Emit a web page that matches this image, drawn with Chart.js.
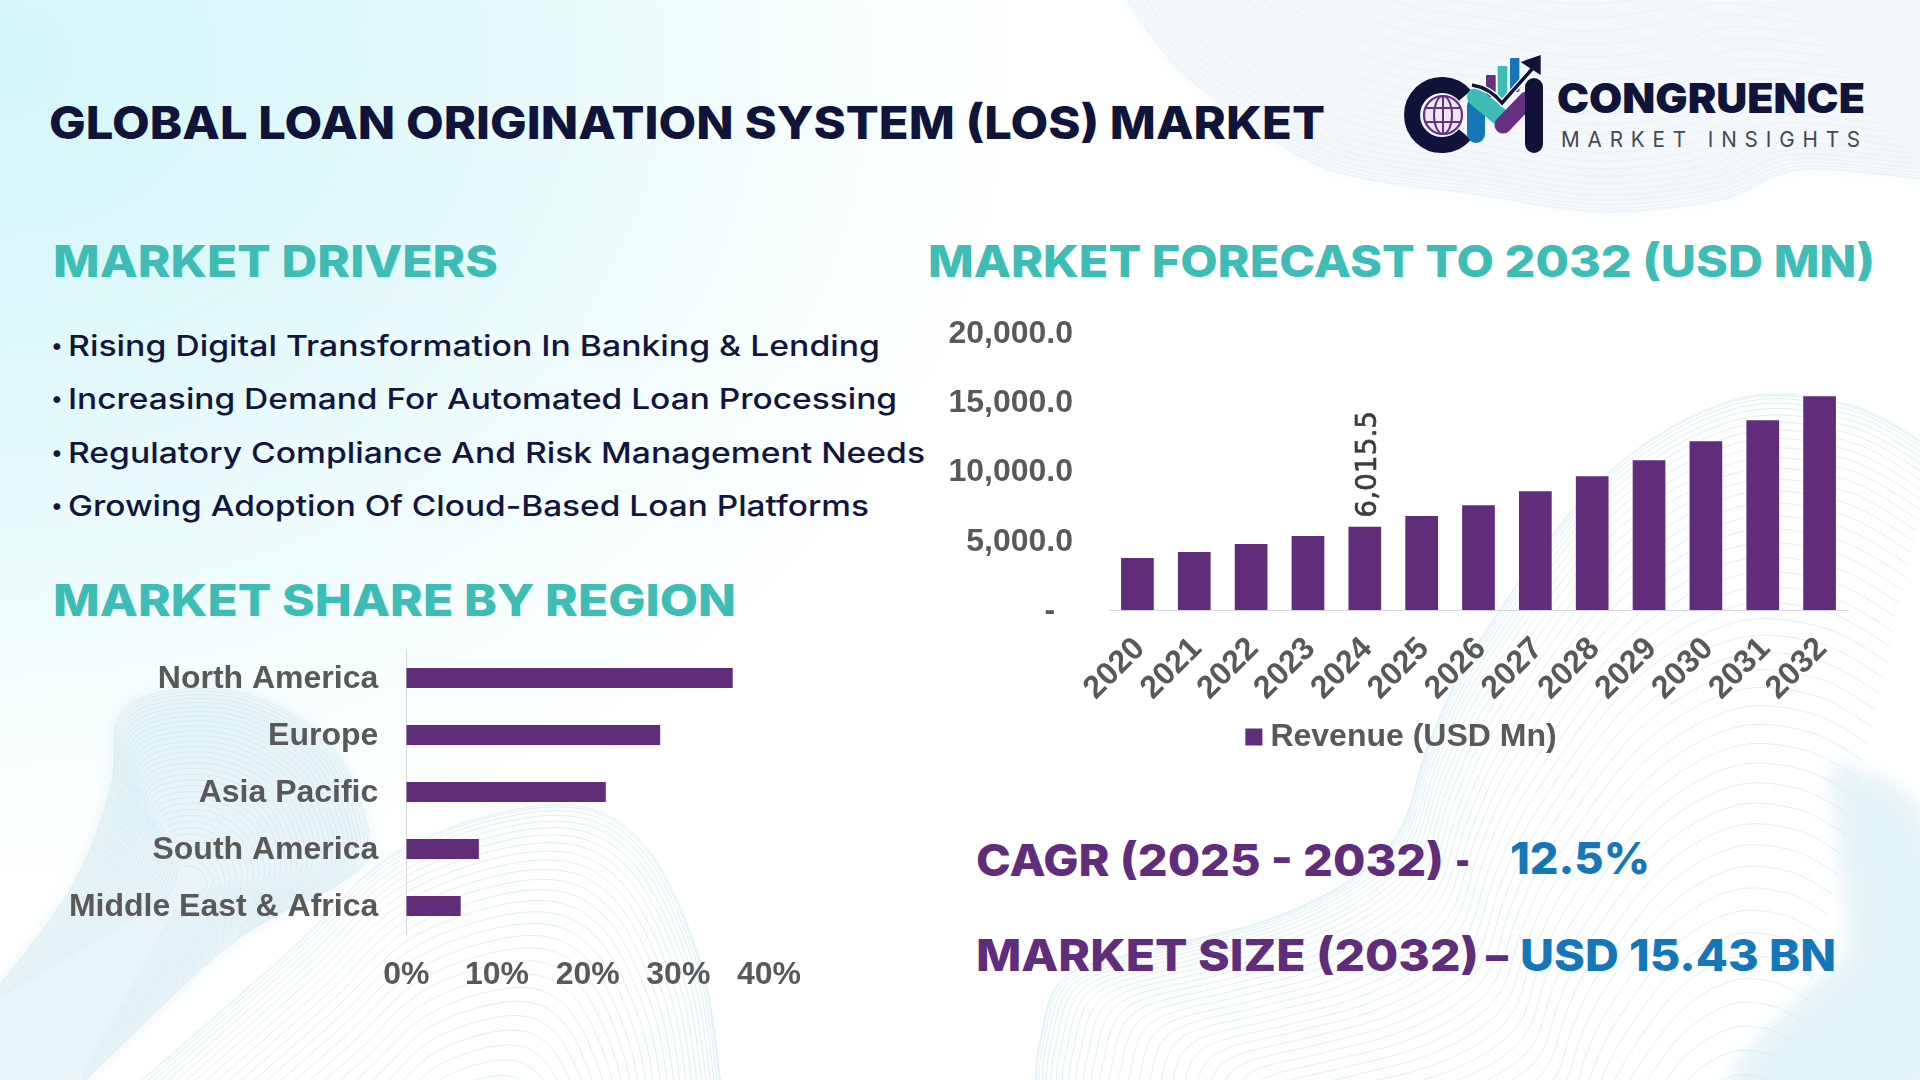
<!DOCTYPE html>
<html>
<head>
<meta charset="utf-8">
<title>Global Loan Origination System (LOS) Market</title>
<script src="https://cdn.jsdelivr.net/npm/chart.js@4"></script>
<style>
html,body{margin:0;padding:0;width:1920px;height:1080px;overflow:hidden;background:#fff}
#page{position:relative;width:1920px;height:1080px;overflow:hidden;
 background:radial-gradient(ellipse 1050px 850px at 0px 60px,#d4f6f9 0%,#e2f9fb 40%,#f4fdfd 72%,#ffffff 100%)}
#bg,#logo{position:absolute;left:0;top:0}
.t{position:absolute;white-space:nowrap;line-height:1;font-family:Inter,sans-serif;transform-origin:left center}
.cv{position:absolute}
canvas{display:block}
</style>
</head>
<body>
<div id="page">
<svg id="bg" width="1920" height="1080" viewBox="0 0 1920 1080" xmlns="http://www.w3.org/2000/svg">
<defs><filter id="blur"><feGaussianBlur stdDeviation="10"/></filter><filter id="soft"><feGaussianBlur stdDeviation="8"/></filter></defs>
<g id="bgLines"></g>
</svg>

<svg id="logo" width="1920" height="1080" viewBox="0 0 1920 1080" xmlns="http://www.w3.org/2000/svg">
 <rect x="1486" y="75" width="9.7" height="22" rx="1" fill="#64307f"/>
 <rect x="1497.7" y="66" width="9.6" height="34" rx="1" fill="#3dbdb5"/>
 <rect x="1510" y="58" width="9.4" height="34" rx="1" fill="#1677b8"/>
 <path d="M1465 95.7A30 30 0 1 0 1465 134.3" fill="none" stroke="#10123a" stroke-width="16"/>
 <circle cx="1443" cy="115" r="19" fill="#efe6f4" stroke="#64307f" stroke-width="2.2"/>
 <ellipse cx="1443" cy="115" rx="9" ry="19" fill="none" stroke="#64307f" stroke-width="2"/>
 <path d="M1443 96V134M1425 108H1461M1425 122H1461" stroke="#64307f" stroke-width="2" fill="none"/>
 <path d="M1476 106V134" stroke="#1677b8" stroke-width="18" stroke-linecap="round" fill="none"/>
 <path d="M1476 97L1499 116" stroke="#3dbdb5" stroke-width="18" stroke-linecap="round" fill="none"/>
 <path d="M1503 125L1527 100" stroke="#64307f" stroke-width="17" stroke-linecap="round" fill="none"/>
 <path d="M1534 87V144" stroke="#10123a" stroke-width="18" stroke-linecap="round" fill="none"/>
 <path d="M1472 85Q1490 88 1502 103L1533 68" stroke="#ffffff" stroke-width="6" fill="none"/>
 <path d="M1472 85Q1490 88 1502 103L1533 68" stroke="#10123a" stroke-width="3.4" fill="none"/>
 <path d="M1540.7 55L1520.7 62L1540.7 75Z" fill="#10123a"/>
</svg>

<div class="t" data-x="49" data-r="1325" data-y="123" style="font-size:45.5px;font-weight:800;color:#10133a">GLOBAL LOAN ORIGINATION SYSTEM (LOS) MARKET</div>
<div class="t" data-x="53" data-r="498" data-y="261" style="font-size:44px;font-weight:800;color:#3dbdb5">MARKET DRIVERS</div>
<div class="t" data-x="928" data-r="1875" data-y="261" style="font-size:44px;font-weight:800;color:#3dbdb5">MARKET FORECAST TO 2032 (USD MN)</div>
<div class="t" data-x="51" data-y="345" style="font-size:22px;font-weight:500;color:#12163c">•</div>
<div class="t" data-x="51" data-y="398" style="font-size:22px;font-weight:500;color:#12163c">•</div>
<div class="t" data-x="51" data-y="452" style="font-size:22px;font-weight:500;color:#12163c">•</div>
<div class="t" data-x="51" data-y="505" style="font-size:22px;font-weight:500;color:#12163c">•</div>
<div class="t" data-x="68" data-r="880" data-y="345" style="font-size:29px;font-weight:500;color:#12163c">Rising Digital Transformation In Banking &amp; Lending</div>
<div class="t" data-x="68" data-r="897" data-y="398" style="font-size:29px;font-weight:500;color:#12163c">Increasing Demand For Automated Loan Processing</div>
<div class="t" data-x="68" data-r="925" data-y="452" style="font-size:29px;font-weight:500;color:#12163c">Regulatory Compliance And Risk Management Needs</div>
<div class="t" data-x="68" data-r="869" data-y="505" style="font-size:29px;font-weight:500;color:#12163c">Growing Adoption Of Cloud-Based Loan Platforms</div>
<div class="t" data-x="53" data-r="736" data-y="600" style="font-size:44px;font-weight:800;color:#3dbdb5">MARKET SHARE BY REGION</div>
<div class="t" data-x="976" data-r="1444" data-y="860" style="font-size:44px;font-weight:800;color:#5f2d7c">CAGR (2025 - 2032)</div>
<div class="t" data-x="1455" data-r="1470" data-y="860" style="font-size:44px;font-weight:800;color:#5f2d7c">-</div>
<div class="t" data-x="1510" data-r="1650" data-y="858" style="font-size:44px;font-weight:800;color:#1677b8">12.5%</div>
<div class="t" data-x="976" data-r="1479" data-y="955" style="font-size:44px;font-weight:800;color:#5f2d7c">MARKET SIZE (2032)</div>
<div class="t" data-x="1486" data-r="1508" data-y="955" style="font-size:44px;font-weight:800;color:#5f2d7c">–</div>
<div class="t" data-x="1520" data-r="1836" data-y="955" style="font-size:44px;font-weight:800;color:#1677b8">USD 15.43 BN</div>
<div class="t" data-x="1557" data-r="1865" data-y="98" style="font-size:41px;font-weight:900;color:#10133a">CONGRUENCE</div>
<div class="t" data-x="1561" data-r="1868" data-y="139" style="font-size:22px;font-weight:400;letter-spacing:.38em;color:#444850">MARKET INSIGHTS</div>

<div class="cv" style="left:900px;top:300px;width:1010px;height:463px"><canvas id="rev" width="1010" height="463"></canvas></div>
<div class="cv" style="left:40px;top:630px;width:780px;height:370px"><canvas id="reg" width="780" height="370"></canvas></div>
</div>

<script>
// ---- chart data ----
const years = ["2020","2021","2022","2023","2024","2025","2026","2027","2028","2029","2030","2031","2032"];
const revenue = [3750,4180,4760,5340,6015.5,6780,7570,8580,9660,10815,12185,13700,15430];
const seriesName = "Revenue (USD Mn)";
const labelledYear = "2024";
const labelledText = "6,015.5";
const regions = ["North America","Europe","Asia Pacific","South America","Middle East & Africa"];
const regionShare = [36,28,22,8,6];

// ---- style ----
const PURPLE = "#612d7b", GREY = "#595959", AXIS = "#d6d6dc";
const LAB = "'Liberation Sans', Arial, sans-serif";
Chart.defaults.animation = false;
Chart.defaults.font.family = LAB;
Chart.defaults.color = GREY;

// ---- place text and fit it to its measured extent ----
document.querySelectorAll('.t').forEach(el => {
  el.style.left = el.dataset.x + 'px';
  el.style.top = el.dataset.y + 'px';
  if (!el.dataset.r) { el.style.transform = 'translateY(-50%)'; return; }
  const w = el.getBoundingClientRect().width;
  const target = el.dataset.r - el.dataset.x;
  el.style.transform = 'translateY(-50%) scaleX(' + (target / w).toFixed(4) + ')';
});

// ---- decorative background: contour families ----
const NS = "http://www.w3.org/2000/svg";
const host = document.getElementById('bgLines');
function smooth(p){
  let d = 'M' + p[0][0] + ' ' + p[0][1];
  for (let i = 0; i < p.length - 1; i++){
    const a = p[Math.max(i-1,0)], b = p[i], c = p[i+1], e = p[Math.min(i+2,p.length-1)];
    d += 'C' + (b[0]+(c[0]-a[0])/6) + ' ' + (b[1]+(c[1]-a[1])/6) + ' ' + (c[0]-(e[0]-b[0])/6) + ' ' + (c[1]-(e[1]-b[1])/6) + ' ' + c[0] + ' ' + c[1];
  }
  return d;
}
function add(attrs){
  const e = document.createElementNS(NS,'path');
  for (const k in attrs) e.setAttribute(k, attrs[k]);
  host.appendChild(e);
}
function family(p, cx, cy, n, sMin, color, op, width, pow){
  const d = smooth(p);
  for (let i = 0; i < n; i++){
    const s = 1 - (1 - sMin) * Math.pow(i/(n-1), pow);
    add({d, fill:'none', stroke:color, 'stroke-opacity':op, 'stroke-width':width,
      'vector-effect':'non-scaling-stroke',
      transform:`translate(${cx} ${cy}) scale(${s}) translate(${-cx} ${-cy})`});
  }
}
// top right veil
const topEdge = [[1120,-10],[1170,60],[1230,110],[1330,170],[1480,195],[1600,212],[1720,200],[1800,170],[1930,180]];
add({d:smooth(topEdge)+'L1930 -10Z', fill:'#edf3f9', 'fill-opacity':.6, filter:'url(#soft)'});
family(topEdge,1540,-320,34,.35,'#e4edf6',.6,1,1.6);
// bottom centre arcs
const arcs = [[130,1090],[290,950],[400,850],[550,805],[640,840],[700,960],[722,1090]];
family(arcs,470,1230,30,.25,'#d3ebf0',.75,1,1.5);
// bottom right arcs
const brVeil = [[1830,760],[1930,830],[1930,1090],[1730,1090],[1850,950]];
add({d:smooth(brVeil)+'Z', fill:'#bfe3ee', 'fill-opacity':.42, filter:'url(#blur)'});
const brEdge = [[1035,1090],[1040,1040],[1067,975],[1170,945],[1267,920],[1350,880],[1400,830],[1430,740],[1480,640],[1600,480],[1733,400],[1850,405],[1935,450]];
family(brEdge,1730,1340,48,.2,'#d2e9f1',.7,1,1.6);
// bottom left ribbon
const ribbon = [[-20,1010],[70,890],[110,790],[120,715],[175,690],[255,697],[333,747],[370,840],[345,880],[230,945],[70,1095]];
add({d:smooth(ribbon)+'L-20 1095Z', fill:'#d4ecf2', 'fill-opacity':.5, filter:'url(#soft)'});
family(ribbon,185,890,34,.12,'#c2e1ea',.45,1,1.2);
family([[110,715],[190,790],[250,880],[230,945]],40,1200,22,.2,'#ffffff',.3,1,1.2);

// ---- revenue chart ----
const labelPlugin = {
  id:'oneLabel',
  afterDatasetsDraw(chart){
    const idx = years.indexOf(labelledYear);
    const bar = chart.getDatasetMeta(0).data[idx];
    const c = chart.ctx;
    c.save();
    c.translate(bar.x + 4, bar.y - 9);
    c.rotate(-Math.PI/2);
    c.textAlign = 'left';
    c.textBaseline = 'middle';
    c.fillStyle = '#3c3c3c';
    c.strokeStyle = '#3c3c3c';
    c.lineWidth = .6;
    c.font = "28px 'DejaVu Sans'";
    c.fillText(labelledText, 0, 0);
    c.strokeText(labelledText, 0, 0);
    c.restore();
  }
};
new Chart(document.getElementById('rev'), {
  type:'bar',
  data:{labels:years, datasets:[{label:seriesName, data:revenue, backgroundColor:PURPLE,
    barPercentage:.575, categoryPercentage:1}]},
  plugins:[labelPlugin],
  options:{
    responsive:false,
    layout:{autoPadding:false, padding:{top:33}},
    plugins:{
      tooltip:{enabled:false},
      legend:{position:'bottom', labels:{usePointStyle:true, pointStyle:'rect', boxWidth:1, boxHeight:17, padding:4,
        color:GREY, font:{size:32, weight:'bold', family:LAB}}}
    },
    scales:{
      x:{grid:{display:false}, border:{color:AXIS},
        afterFit(s){ s.height = 107; },
        ticks:{autoSkip:false, minRotation:45, maxRotation:45, padding:12, labelOffset:2.5, color:GREY,
          font:{size:32, weight:'bold', family:LAB}}},
      y:{min:0, max:20000, grid:{display:false, drawTicks:true, tickLength:36}, border:{display:false},
        afterFit(s){ s.width = 209; },
        ticks:{stepSize:5000, padding:0, labelOffset:1, color:GREY, font:{size:32, weight:'bold', family:LAB},
          callback(v){ return v === 0 ? '-  ' : v.toLocaleString('en-US',{minimumFractionDigits:1}); }}},
      pad:{position:'right', grid:{display:false}, border:{display:false}, ticks:{display:false},
        afterFit(s){ s.width = 62; }}
    }
  }
});

// ---- region chart ----
new Chart(document.getElementById('reg'), {
  type:'bar',
  data:{labels:regions, datasets:[{data:regionShare, backgroundColor:PURPLE,
    barPercentage:.35, categoryPercentage:1}]},
  options:{
    indexAxis:'y',
    responsive:false,
    layout:{autoPadding:false, padding:{top:19.5, right:51}},
    plugins:{legend:{display:false}, tooltip:{enabled:false}},
    scales:{
      x:{min:0, max:40, grid:{display:false}, border:{display:false},
        afterFit(s){ s.height = 65.5; },
        ticks:{stepSize:10, padding:13, color:GREY, font:{size:32, weight:'bold', family:LAB},
          callback(v){ return v + '%'; }}},
      y:{grid:{display:false, drawTicks:true, tickLength:28}, border:{color:AXIS},
        afterFit(s){ s.width = 366.3; },
        ticks:{padding:0, labelOffset:1.5, autoSkip:false, color:GREY, font:{size:32, weight:'bold', family:LAB}}}
    }
  }
});
</script>
</body>
</html>
